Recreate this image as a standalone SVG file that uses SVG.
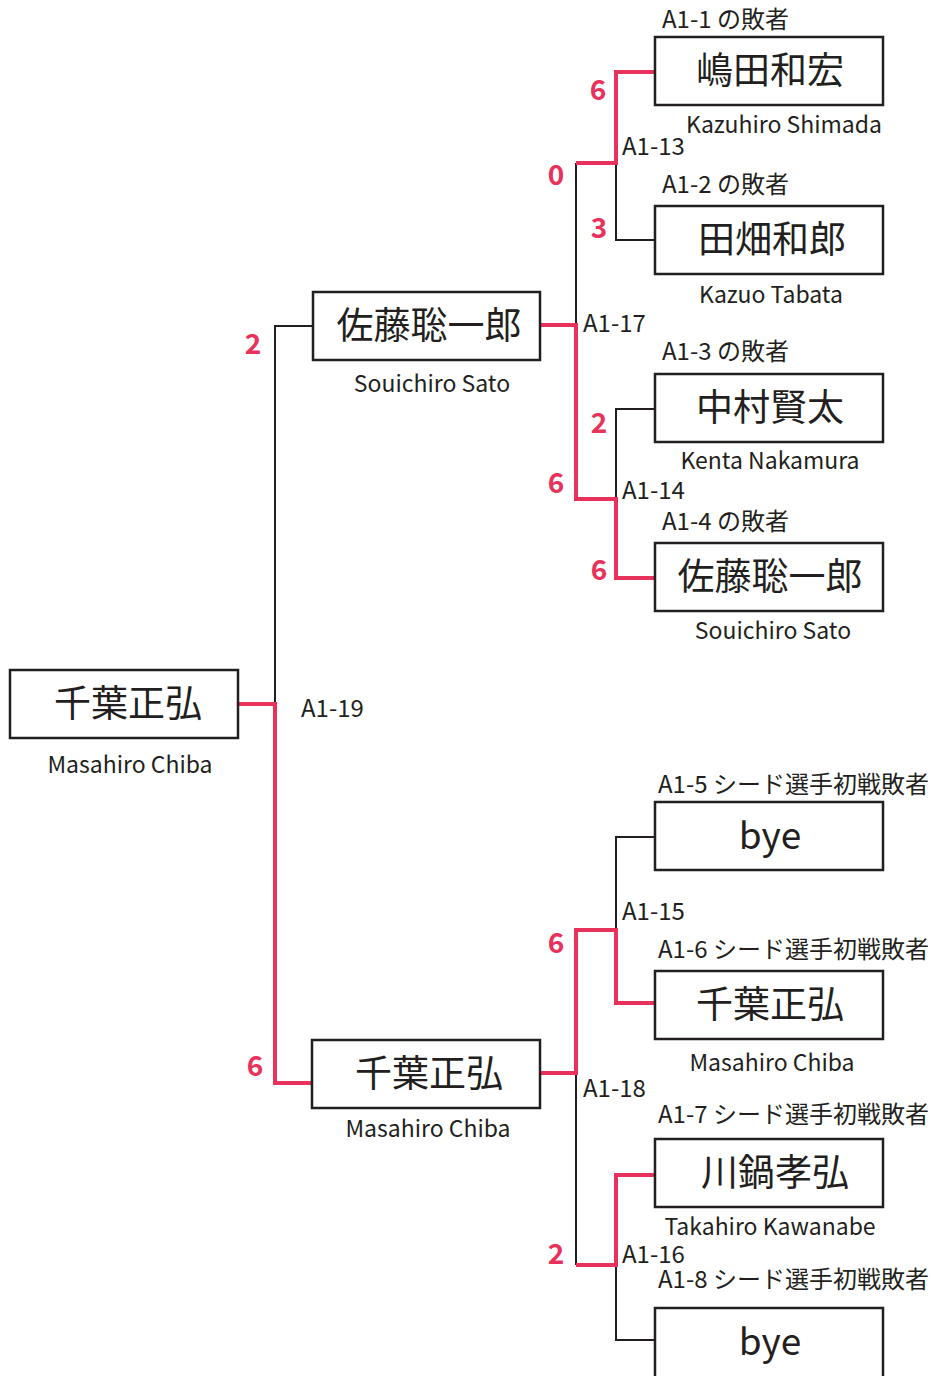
<svg xmlns="http://www.w3.org/2000/svg" width="931" height="1376" viewBox="0 0 931 1376">
<style>
.box{fill:#fff;stroke:#231f20;stroke-width:2.5}
.nm{font-family:"Noto Sans CJK JP","Noto Sans",sans-serif;font-size:37px;fill:#231f20;text-anchor:middle}
.sub{font-family:"Noto Sans CJK JP","Noto Sans",sans-serif;font-size:23px;fill:#231f20;text-anchor:middle}
.lb{font-family:"Noto Sans CJK JP","Noto Sans",sans-serif;font-size:24px;fill:#231f20}
.sc{font-family:"Noto Sans CJK JP","Noto Sans",sans-serif;font-size:28px;font-weight:bold;fill:#e8315b;text-anchor:middle}
.bk{fill:none;stroke:#231f20;stroke-width:2}
.pk{fill:none;stroke:#e8315b;stroke-width:4}
</style>
<rect width="931" height="1376" fill="#fff"/>
<g id="connectors">
<path class="bk" d="M616,163V240H655"/>
<path class="bk" d="M576,163V499"/>
<path class="bk" d="M655,409H616V499"/>
<path class="bk" d="M313,326H275V704"/>
<path class="bk" d="M655,837H616V930"/>
<path class="bk" d="M576,1073V1265"/>
<path class="bk" d="M616,1265V1340H655"/>
<path class="pk" d="M655,72H616V163H576"/>
<path class="pk" d="M540,325H576V499H616V578H655"/>
<path class="pk" d="M238,704H275V1083H312"/>
<path class="pk" d="M540,1073H576V930H616V1003H655"/>
<path class="pk" d="M576,1265H616V1175H655"/>
</g>
<g id="labels">
<text class="lb" x="622" y="155">A1-13</text>
<text class="lb" x="583" y="332">A1-17</text>
<text class="lb" x="622" y="499">A1-14</text>
<text class="lb" x="301" y="717">A1-19</text>
<text class="lb" x="622" y="920">A1-15</text>
<text class="lb" x="583" y="1097">A1-18</text>
<text class="lb" x="622" y="1263">A1-16</text>
<text class="sc" x="598" y="100">6</text>
<text class="sc" x="556" y="185">0</text>
<text class="sc" x="599" y="238">3</text>
<text class="sc" x="599" y="433">2</text>
<text class="sc" x="556" y="493">6</text>
<text class="sc" x="599" y="580">6</text>
<text class="sc" x="253" y="354">2</text>
<text class="sc" x="255" y="1076">6</text>
<text class="sc" x="556" y="953">6</text>
<text class="sc" x="556" y="1264">2</text>
</g>
<g id="n-a1-1">
<text class="lb" x="662" y="28">A1-1 の敗者</text>
<rect class="box" x="655" y="37" width="228" height="68"/>
<text class="nm" x="770" y="84">嶋田和宏</text>
<text class="sub" x="784" y="133">Kazuhiro Shimada</text>
</g>
<g id="n-a1-2">
<text class="lb" x="662" y="193">A1-2 の敗者</text>
<rect class="box" x="655" y="206" width="228" height="68"/>
<text class="nm" x="772" y="253">田畑和郎</text>
<text class="sub" x="771" y="303">Kazuo Tabata</text>
</g>
<g id="n-a1-3">
<text class="lb" x="662" y="360">A1-3 の敗者</text>
<rect class="box" x="655" y="374" width="228" height="68"/>
<text class="nm" x="770" y="421">中村賢太</text>
<text class="sub" x="770" y="469">Kenta Nakamura</text>
</g>
<g id="n-a1-4">
<text class="lb" x="662" y="530">A1-4 の敗者</text>
<rect class="box" x="655" y="543" width="228" height="68"/>
<text class="nm" x="770" y="590">佐藤聡一郎</text>
<text class="sub" x="773" y="639">Souichiro Sato</text>
</g>
<g id="n-a1-5">
<text class="lb" x="658" y="793">A1-5 シード選手初戦敗者</text>
<rect class="box" x="655" y="802" width="228" height="68"/>
<text class="nm" x="770" y="849">bye</text>
</g>
<g id="n-a1-6">
<text class="lb" x="658" y="958">A1-6 シード選手初戦敗者</text>
<rect class="box" x="655" y="971" width="228" height="68"/>
<text class="nm" x="770" y="1018">千葉正弘</text>
<text class="sub" x="772" y="1071">Masahiro Chiba</text>
</g>
<g id="n-a1-7">
<text class="lb" x="658" y="1123">A1-7 シード選手初戦敗者</text>
<rect class="box" x="655" y="1139" width="228" height="68"/>
<text class="nm" x="775" y="1186">川鍋孝弘</text>
<text class="sub" x="770" y="1235">Takahiro Kawanabe</text>
</g>
<g id="n-a1-8">
<text class="lb" x="658" y="1288">A1-8 シード選手初戦敗者</text>
<rect class="box" x="655" y="1308" width="228" height="72"/>
<text class="nm" x="770" y="1355">bye</text>
</g>
<g id="n-a1-17">
<rect class="box" x="313" y="292" width="227" height="68"/>
<text class="nm" x="429" y="339">佐藤聡一郎</text>
<text class="sub" x="432" y="392">Souichiro Sato</text>
</g>
<g id="n-a1-18">
<rect class="box" x="312" y="1040" width="228" height="68"/>
<text class="nm" x="429" y="1087">千葉正弘</text>
<text class="sub" x="428" y="1137">Masahiro Chiba</text>
</g>
<g id="n-a1-19">
<rect class="box" x="10" y="670" width="228" height="68"/>
<text class="nm" x="128" y="717">千葉正弘</text>
<text class="sub" x="130" y="773">Masahiro Chiba</text>
</g>
</svg>
